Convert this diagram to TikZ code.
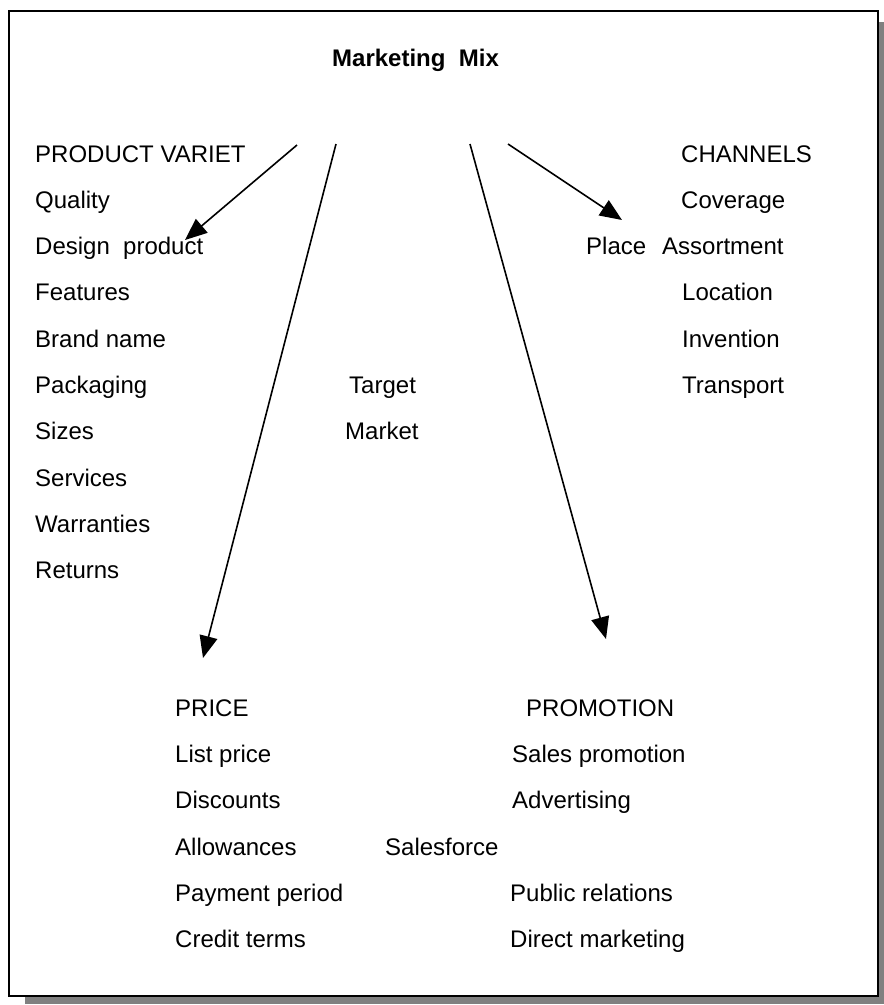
\documentclass[tikz,border=0pt]{standalone}
\usepackage{fontspec}
\setmainfont{Liberation Sans}
\usetikzlibrary{arrows.meta}
\begin{document}
\begin{tikzpicture}[x=1pt,y=-1pt,
  lbl/.style={anchor=base west,inner sep=0pt,font=\fontsize{24}{28}\selectfont},
  ttl/.style={anchor=base west,inner sep=0pt,font=\fontsize{24}{28}\selectfont\bfseries},
  arr/.style={line width=1.6pt,-{Triangle[length=22pt,width=18pt]}},
  frame/.style={line width=2pt},
  shade/.style={fill=black!50,draw=none}]
\useasboundingbox (0,0) rectangle (884,1005);
\fill[white] (0,0) rectangle (884,1005);
% shadow
\path[shade] (878,22) rectangle (884,1004);
\path[shade] (25,996) rectangle (884,1004);
\draw[frame,fill=white] (9,11) rectangle (878,996);
% title
\node[ttl] (title) at (332,66) {Marketing\ \ Mix};
% product column
\node[lbl] (pv) at (35,162) {PRODUCT VARIET};
\node[lbl] (q) at (35,208) {Quality};
\node[lbl] (dp) at (35,254) {Design\ \ product};
\node[lbl] (fe) at (35,300) {Features};
\node[lbl] (bn) at (35,347) {Brand name};
\node[lbl] (pk) at (35,393) {Packaging};
\node[lbl] (sz) at (35,439) {Sizes};
\node[lbl] (sv) at (35,486) {Services};
\node[lbl] (wa) at (35,532) {Warranties};
\node[lbl] (re) at (35,578) {Returns};
% channels column
\node[lbl] (ch) at (681,162) {CHANNELS};
\node[lbl] (cv) at (681,208) {Coverage};
\node[lbl] (pl) at (586,254) {Place};
\node[lbl] (as) at (662,254) {Assortment};
\node[lbl] (lo) at (682,300) {Location};
\node[lbl] (iv) at (682,347) {Invention};
\node[lbl] (tr) at (682,393) {Transport};
% centre
\node[lbl] (tg) at (349,393) {Target};
\node[lbl] (mk) at (345,439) {Market};
% price column
\node[lbl] (pr) at (175,716) {PRICE};
\node[lbl] (lp) at (175,762) {List price};
\node[lbl] (di) at (175,808) {Discounts};
\node[lbl] (al) at (175,855) {Allowances};
\node[lbl] (pp) at (175,901) {Payment period};
\node[lbl] (ct) at (175,947) {Credit terms};
% promotion column
\node[lbl] (pm) at (526,716) {PROMOTION};
\node[lbl] (sp) at (512,762) {Sales promotion};
\node[lbl] (ad) at (512,808) {Advertising};
\node[lbl] (sf) at (385,855) {Salesforce};
\node[lbl] (prl) at (510,901) {Public relations};
\node[lbl] (dm) at (510,947) {Direct marketing};
% arrow ends
\coordinate (s1) at (297,145);
\coordinate (e1) at (185,240);
\coordinate (s2) at (336,144);
\coordinate (e2) at (203,658);
\coordinate (s3) at (470,144);
\coordinate (e3) at (606,639);
\coordinate (s4) at (508,144);
\coordinate (e4) at (622,220);
\draw[arr] (s1) -- (e1);
\draw[arr] (s2) -- (e2);
\draw[arr] (s3) -- (e3);
\draw[arr] (s4) -- (e4);
\end{tikzpicture}
\end{document}
